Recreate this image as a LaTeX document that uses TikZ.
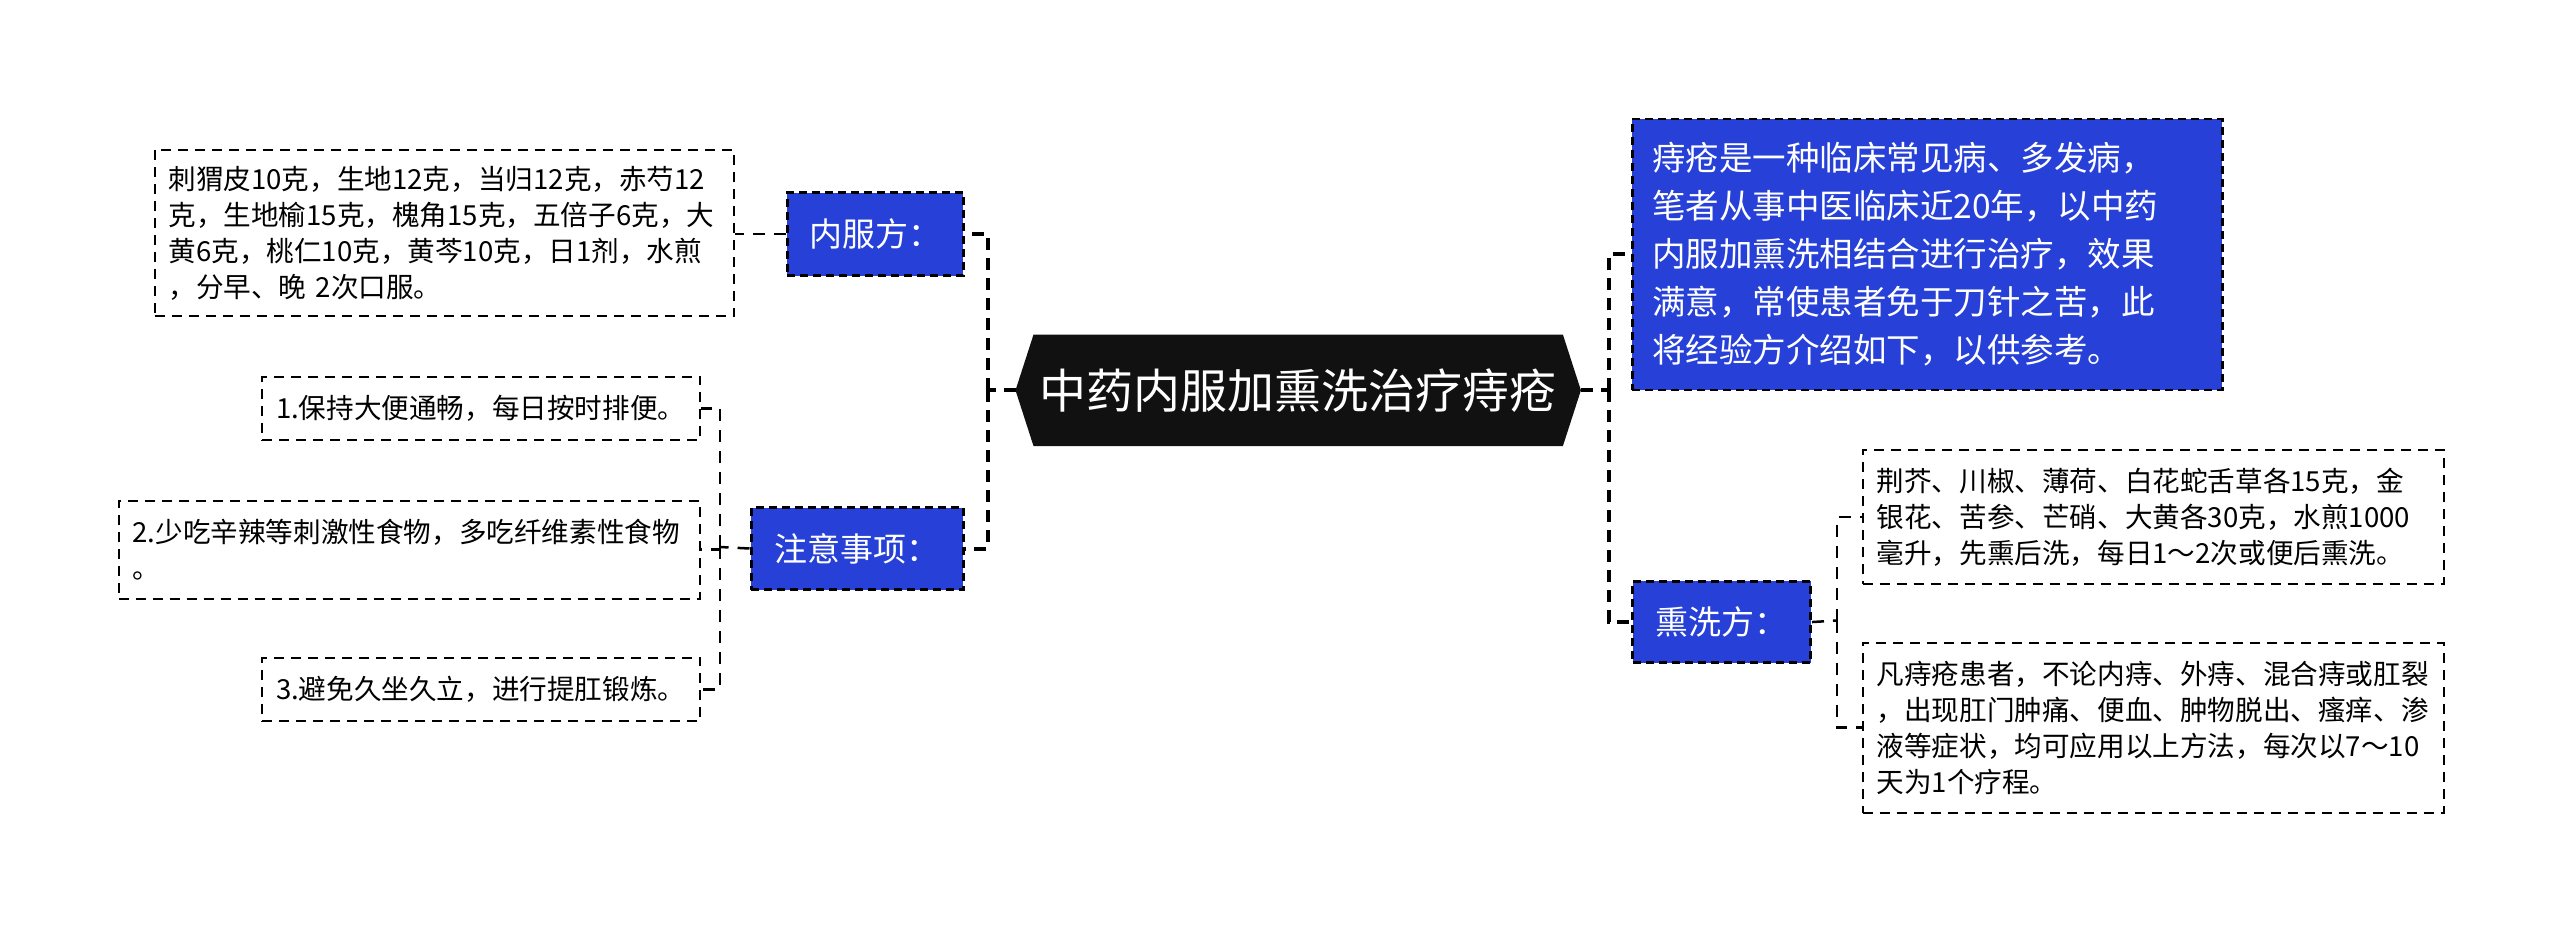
\documentclass[tikz,border=0pt]{standalone}
\usepackage{fontspec}
\setmainfont{Noto Sans CJK SC}
\usetikzlibrary{backgrounds,calc}
\definecolor{nodeblue}{RGB}{38,64,216}
\definecolor{titlebg}{RGB}{17,17,17}
\begin{document}
\begin{tikzpicture}[x=1pt,y=-1pt,
  leaf/.style={draw=black, line width=2pt, dash pattern=on 10pt off 7pt, inner xsep=14pt, inner ysep=0pt,
    align=left, font=\fontsize{27.6pt}{36pt}\selectfont, anchor=north west},
  cat/.style={draw=black, fill=nodeblue, text=white, line width=3pt, dash pattern=on 8pt off 5pt,
    inner sep=0pt, align=center, font=\fontsize{33pt}{40pt}\selectfont, anchor=north west},
  bluetext/.style={draw=black, fill=nodeblue, text=white, line width=2.5pt, dash pattern=on 8pt off 5pt,
    inner xsep=20pt, inner ysep=0pt, align=left, font=\fontsize{33.5pt}{48pt}\selectfont, anchor=north west},
  conn/.style={draw=black, line width=4pt, dash pattern=on 12pt off 8pt},
  subconn/.style={draw=black, line width=2.5pt, dash pattern=on 12pt off 9pt}
]
\useasboundingbox (0,0) rectangle (2560,931);

% central
\node[minimum width=565pt, minimum height=111pt, inner sep=0pt, text=white,
  font=\fontsize{47pt}{50pt}\selectfont] (title) at (1298.2,390.3) {中药内服加熏洗治疗痔疮};

% left branch
\node[cat, minimum width=176.3pt, minimum height=83.3pt] (nf) at (785.5,191) {内服方：};
\node[cat, minimum width=212.3pt, minimum height=82pt] (zy) at (749.5,506) {注意事项：};

\node[leaf, text width=551.5pt, minimum height=166.6pt] (A) at (153.5,148.6)
  {刺猬皮10克，生地12克，当归12克，赤芍12\\克，生地榆15克，槐角15克，五倍子6克，大\\黄6克，桃仁10克，黄芩10克，日1剂，水煎\\，分早、晚 2次口服。};
\node[leaf, text width=410pt, minimum height=63.7pt] (B1) at (261,375.6) {1.保持大便通畅，每日按时排便。};
\node[leaf, text width=553.4pt, minimum height=98pt] (B2) at (117.6,499.7) {2.少吃辛辣等刺激性食物，多吃纤维素性食物\\。};
\node[leaf, text width=410pt, minimum height=63.7pt] (B3) at (261,656.5) {3.避免久坐久立，进行提肛锻炼。};

% right branch
\node[bluetext, text width=550pt, minimum height=271pt] (R1) at (1631,117.6)
  {痔疮是一种临床常见病、多发病，\\笔者从事中医临床近20年，以中药\\内服加熏洗相结合进行治疗，效果\\满意，常使患者免于刀针之苦，此\\将经验方介绍如下，以供参考。};
\node[cat, minimum width=178pt, minimum height=81.7pt] (xx) at (1631,579.7) {熏洗方：};
\node[leaf, text width=553.4pt, minimum height=134pt] (R2) at (1861.6,449)
  {荆芥、川椒、薄荷、白花蛇舌草各15克，金\\银花、苦参、芒硝、大黄各30克，水煎1000\\毫升，先熏后洗，每日1～2次或便后熏洗。};
\node[leaf, text width=553.4pt, minimum height=169.8pt] (R3) at (1861.6,641.8)
  {凡痔疮患者，不论内痔、外痔、混合痔或肛裂\\，出现肛门肿痛、便血、肿物脱出、瘙痒、渗\\液等症状，均可应用以上方法，每次以7～10\\天为1个疗程。};

% connectors
\coordinate (tL) at (988,390.3);
\coordinate (tB) at (720,547);
\coordinate (tR) at (1608.5,390.3);
\coordinate (tX) at (1837,620.5);
\draw[conn] (title.west) -- (tL);
\draw[conn] (tL) |- (nf.east);
\draw[conn] (tL) |- (zy.east);
\draw[subconn] (nf.west) -- (nf.west -| A.east);
\draw[subconn] (zy.west) -- (tB);
\draw[subconn] (tB) |- (B1.east);
\draw[subconn] (tB) |- (B2.east);
\draw[subconn] (tB) |- (B3.east);
\draw[conn] (title.east) -- (tR);
\draw[conn] (tR) |- (R1.west);
\draw[conn] (tR) |- (xx.west);
\draw[subconn] (xx.east) -- (tX);
\draw[subconn] (tX) |- (R2.west);
\draw[subconn] (tX) |- (R3.west);

\begin{scope}[on background layer]
  \fill[white] (0,0) rectangle (2560,931);
  \fill[titlebg] ($(title.north west)+(18,0)$) -- ($(title.north east)+(-18,0)$) -- (title.east)
    -- ($(title.south east)+(-18,0)$) -- ($(title.south west)+(18,0)$) -- (title.west) -- cycle;
\end{scope}
\end{tikzpicture}
\end{document}
